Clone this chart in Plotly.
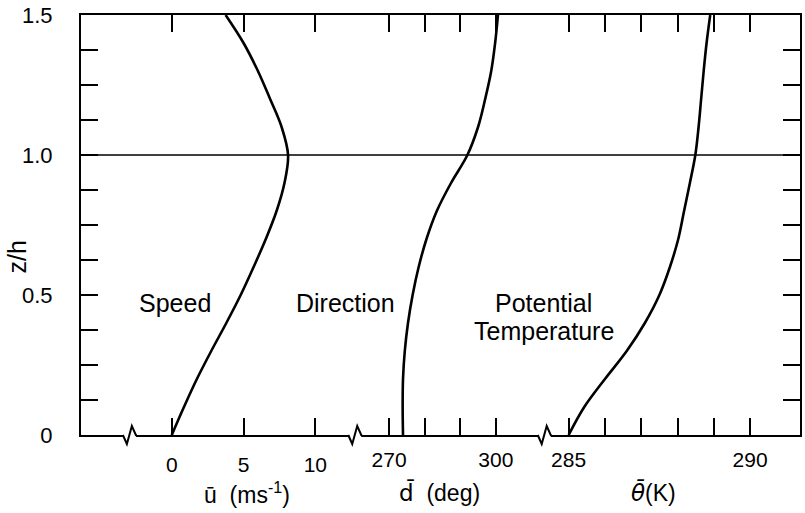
import plotly.graph_objects as go

# ---------------- data ----------------
Z_H = [0.0, 0.1, 0.2, 0.3, 0.4, 0.5, 0.6, 0.7, 0.8, 0.9, 1.0, 1.1, 1.2, 1.3, 1.4, 1.5]
SPEED = [0.0, 0.85, 1.75, 2.75, 3.8, 4.8, 5.7, 6.55, 7.3, 7.85, 8.1, 7.65, 6.85, 6.0, 5.0, 3.75]
DIRECTION = [273.9, 273.8, 273.9, 274.4, 275.3, 276.6, 278.3, 280.5, 283.4, 287.4,
             292.0, 295.0, 297.0, 298.7, 299.8, 300.6]
TEMPERATURE = [285.0, 285.43, 286.0, 286.6, 287.1, 287.5, 287.79, 288.02, 288.18, 288.34,
               288.49, 288.58, 288.65, 288.72, 288.80, 288.90]

SPEED_TICKS = [0, 5, 10]
SPEED_LABELS = ["0", "5", "10"]
DIR_TICKS = [270, 300]
DIR_LABELS = ["270", "300"]
DIR_MINOR = [280, 290]
TEMP_TICKS = [285, 290]
TEMP_LABELS = ["285", "290"]
TEMP_MINOR = [286, 287, 288, 289]
Y_TICKS = [0, 0.5, 1.0, 1.5]
Y_LABELS = ["0", "0.5", "1.0", "1.5"]

# ---------------- layout geometry (pixels) ----------------
W, H = 805, 513
ML, MR, MT, MB = 81, 3, 12, 78
PW = W - ML - MR
PH = H - MT - MB

def axis_range(v0, px0, v1, px1):
    """range so that value v0 sits at absolute pixel px0 and v1 at px1"""
    s = (v1 - v0) / (px1 - px0)
    return [v0 + (ML - px0) * s, v0 + (ML + PW - px0) * s]

R_SPEED = axis_range(0, 172, 5, 244)
R_DIR = axis_range(270, 390, 300, 497)
R_TEMP = axis_range(285, 570, 290, 752)

def px(x):
    return (x - ML) / PW

def py(y):
    return (MT + PH - y) / PH

FONT = "Liberation Sans, Arial, Helvetica, sans-serif"
LINE = dict(color="black", width=2.6)

fig = go.Figure()
fig.add_trace(go.Scatter(x=SPEED, y=Z_H, mode="lines", line=dict(LINE, shape="spline", smoothing=1.0),
                         xaxis="x", yaxis="y", showlegend=False))
fig.add_trace(go.Scatter(x=DIRECTION, y=Z_H, mode="lines", line=dict(LINE, shape="spline", smoothing=1.0),
                         xaxis="x2", yaxis="y", showlegend=False))
fig.add_trace(go.Scatter(x=TEMPERATURE, y=Z_H, mode="lines", line=dict(LINE, shape="spline", smoothing=1.0),
                         xaxis="x3", yaxis="y", showlegend=False))

tickfont = dict(family=FONT, size=21, color="black")
tickstyle = dict(ticks="inside", ticklen=17, tickwidth=1.5, tickcolor="black")
xcommon = dict(tickstyle, showgrid=False, zeroline=False, tickfont=tickfont,
               ticklabelstandoff=10, mirror="ticks", fixedrange=True,
               ticklabeloverflow="allow")

fig.update_layout(
    width=W, height=H,
    margin=dict(l=ML, r=MR, t=MT, b=MB, pad=0),
    paper_bgcolor="white", plot_bgcolor="white",
    xaxis=dict(xcommon, range=R_SPEED, tickvals=SPEED_TICKS, ticktext=SPEED_LABELS,
               showline=True, linecolor="black", linewidth=2),
    xaxis2=dict(xcommon, range=R_DIR, tickvals=DIR_TICKS, ticktext=DIR_LABELS,
                minor=dict(tickstyle, tickvals=DIR_MINOR, showgrid=False),
                overlaying="x", anchor="y", side="bottom", showline=False),
    xaxis3=dict(xcommon, range=R_TEMP, tickvals=TEMP_TICKS, ticktext=TEMP_LABELS,
                minor=dict(tickstyle, tickvals=TEMP_MINOR, showgrid=False),
                overlaying="x", anchor="y", side="bottom", showline=False),
    yaxis=dict(tickstyle, range=[0, 1.5], tickvals=Y_TICKS, ticktext=Y_LABELS,
               minor=dict(tickstyle, dtick=0.125, showgrid=False),
               showline=True, linecolor="black", linewidth=2, mirror="ticks",
               showgrid=False, zeroline=False,
               tickfont=dict(family=FONT, size=22, color="black"),
               ticklabelstandoff=22, ticklabeloverflow="allow", fixedrange=True),
    font=dict(family=FONT, color="black"),
)

# reference line at z/h = 1
fig.add_shape(type="line", xref="paper", yref="y", x0=0, x1=1, y0=1.0, y1=1.0,
              line=dict(color="black", width=1.3))

# axis breaks on the bottom line
BREAKS_PX = [130, 356, 546]
for b in BREAKS_PX:
    fig.add_shape(type="line", xref="paper", yref="paper",
                  x0=px(b - 6), x1=px(b + 6), y0=0, y1=0,
                  line=dict(color="white", width=4), layer="above")
    path = (f"M {px(b-7)} {py(435)} L {px(b-3)} {py(444)} "
            f"L {px(b+2)} {py(426)} L {px(b+6)} {py(435)} L {px(b+7)} {py(435)}")
    fig.add_shape(type="path", xref="paper", yref="paper", path=path,
                  line=dict(color="black", width=2), layer="above")

lfont = dict(family=FONT, size=25, color="black")
afont = dict(family=FONT, size=23, color="black")
DJ = '<span style="font-family:DejaVu Sans">'
ann = [
    dict(text="Speed", x=px(137), y=py(302), xanchor="left", font=lfont),
    dict(text="Direction", x=px(295), y=py(302), xanchor="left", font=lfont),
    dict(text="Potential", x=px(545), y=py(302), xanchor="center", font=lfont),
    dict(text="Temperature", x=px(545), y=py(330), xanchor="center", font=lfont),
    dict(text="ū  (ms<sup>-1</sup>)", x=px(247), y=py(493), xanchor="center", font=afont),
    dict(text=DJ + "d\u0304</span>  (deg)", x=px(440), y=py(493), xanchor="center", font=afont),
    dict(text=DJ + "<i>θ\u0304</i></span>(K)", x=px(655), y=py(493), xanchor="center", font=afont),
]
for a in ann:
    fig.add_annotation(xref="paper", yref="paper", yanchor="middle", showarrow=False, **a)
fig.add_annotation(text="z/h", xref="paper", yref="paper", x=px(17), y=py(256),
                   textangle=-90, showarrow=False, font=dict(family=FONT, size=25, color="black"),
                   xanchor="center", yanchor="middle")

fig.write_html("out.html")
